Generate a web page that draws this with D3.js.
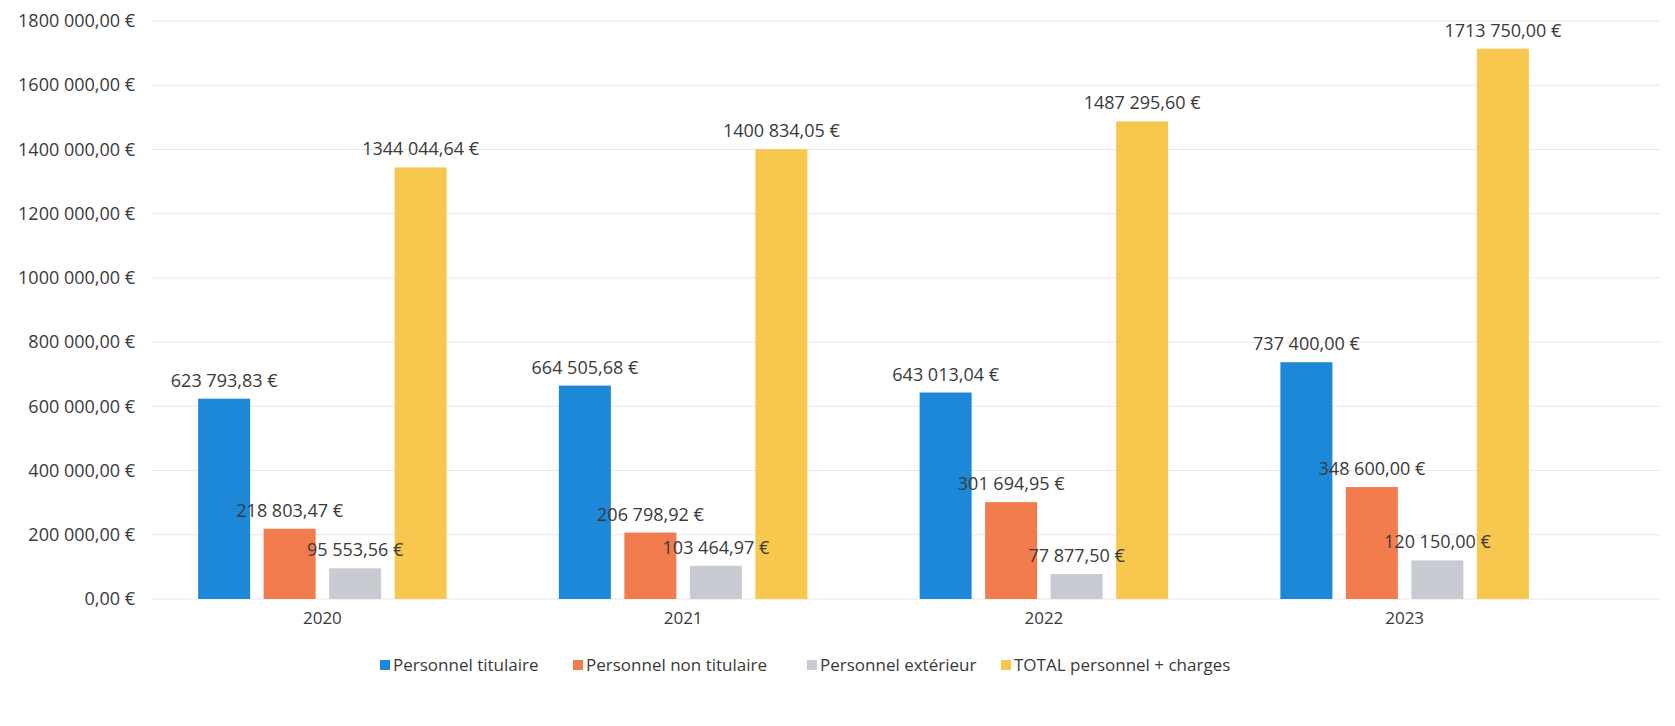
<!DOCTYPE html>
<html>
<head>
<meta charset="utf-8">
<script src="https://cdn.jsdelivr.net/npm/d3@7"></script>
<style>
  body { margin: 0; background: #fff; }
  text { font-family: 'Open Sans', sans-serif; fill: #3a3a3a; }
</style>
</head>
<body>
<div id="chart"></div>
<script>
const years = ['2020', '2021', '2022', '2023']
const seriesNames = ['Personnel titulaire', 'Personnel non titulaire', 'Personnel extérieur', 'TOTAL personnel + charges']
const titulaire = [623793.83, 664505.68, 643013.04, 737400.00]
const nonTitulaire = [218803.47, 206798.92, 301694.95, 348600.00]
const exterieur = [95553.56, 103464.97, 77877.50, 120150.00]
const total = [1344044.64, 1400834.05, 1487295.60, 1713750.00]
const yTicks = [0, 200000, 400000, 600000, 800000, 1000000, 1200000, 1400000, 1600000, 1800000]
const colors = ['#1e88d8', '#f27c4d', '#c8cbd2', '#f8c84e']

const seriesValues = [titulaire, nonTitulaire, exterieur, total]
const width = 1675
const height = 726

// euro format like "1344 044,64 €"
function fmt (v) {
  const cents = Math.round(v * 100)
  const intPart = Math.floor(cents / 100)
  const dec = String(cents % 100).padStart(2, '0')
  let s
  if (intPart >= 1000) {
    s = `${Math.floor(intPart / 1000)} ${String(intPart % 1000).padStart(3, '0')}`
  } else {
    s = `${intPart}`
  }
  return `${s},${dec} €`
}

const x0 = d3.scaleBand()
  .domain(years)
  .range([142, 1585])
  .padding(0)

const x1 = d3.scaleBand()
  .domain(d3.range(seriesNames.length))
  .range([0, x0.bandwidth()])
  .paddingInner(0.206)
  .paddingOuter(0.857)

const y = d3.scaleLinear()
  .domain([0, 1800000])
  .range([599, 21])

const svg = d3.select('#chart').append('svg')
  .attr('width', width)
  .attr('height', height)

// grid
svg.append('g')
  .selectAll('line')
  .data(yTicks).enter()
  .append('line')
  .attr('x1', 152)
  .attr('x2', 1660)
  .attr('y1', d => y(d))
  .attr('y2', d => y(d))
  .attr('stroke', '#e8e8e8')
  .attr('stroke-width', 1)

const yAxis = g => g
  .attr('transform', `translate(141,0)`)
  .call(d3.axisLeft(y).tickValues(yTicks).tickSize(0).tickPadding(6).tickFormat(fmt))
  .call(g => g.select('.domain').remove())
  .call(g => g.selectAll('text')
    .attr('font-size', '18px')
    .attr('font-family', 'Open Sans, sans-serif')
    .attr('fill', '#3a3a3a'))

svg.append('g').call(yAxis)

const xAxis = g => g
  .attr('transform', `translate(0, ${y(0) + 9})`)
  .call(d3.axisBottom(x0).tickSize(0).tickPadding(4))
  .call(g => g.select('.domain').remove())
  .call(g => g.selectAll('text')
    .attr('font-size', '17px')
    .attr('font-family', 'Open Sans, sans-serif')
    .attr('fill', '#3a3a3a'))

svg.append('g').call(xAxis)

const rows = years.map((yr, i) => ({
  year: yr,
  vals: seriesValues.map((s, k) => ({ k, v: s[i] }))
}))

const group = svg.append('g')
  .selectAll('g')
  .data(rows).enter()
  .append('g')
  .attr('transform', d => `translate(${x0(d.year)},0)`)

group.selectAll('rect')
  .data(d => d.vals).enter()
  .append('rect')
  .attr('x', d => x1(d.k))
  .attr('width', x1.bandwidth())
  .attr('y', d => y(d.v))
  .attr('height', d => y(0) - y(d.v))
  .attr('fill', d => colors[d.k])

group.selectAll('text.val')
  .data(d => d.vals).enter()
  .append('text')
  .attr('class', 'val')
  .attr('x', d => x1(d.k) + x1.bandwidth() / 2)
  .attr('y', d => y(d.v) - 12)
  .attr('text-anchor', 'middle')
  .attr('font-size', '18px')
  .text(d => fmt(d.v))

// legend
const legendX = [380, 573, 807, 1001]
const legend = svg.append('g')
  .selectAll('g')
  .data(seriesNames).enter()
  .append('g')
  .attr('transform', (d, i) => `translate(${legendX[i]}, 666)`)

legend.append('rect')
  .attr('x', 0)
  .attr('y', -6)
  .attr('width', 10)
  .attr('height', 10)
  .attr('fill', (d, i) => colors[i])

legend.append('text')
  .attr('x', 13)
  .attr('y', 5)
  .attr('font-size', '17px')
  .text(d => d)
</script>
</body>
</html>
